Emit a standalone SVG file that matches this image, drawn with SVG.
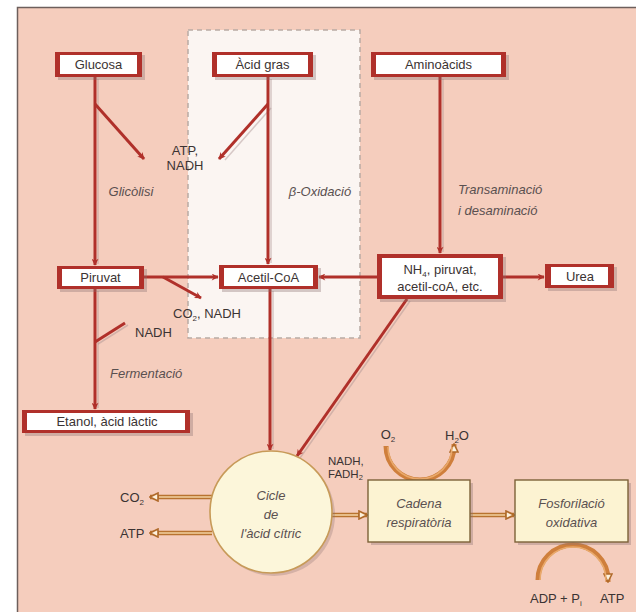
<svg xmlns="http://www.w3.org/2000/svg" width="636" height="612" viewBox="0 0 636 612">
  <defs>
    <style>
      text { font-family: "Liberation Sans", Arial, sans-serif; font-size: 13px; fill: #3b3333; }
      .it { font-style: italic; fill: #5a5050; }
      .c { text-anchor: middle; }
      .sm { font-size: 11.5px; }
      .red { fill: none; stroke: #b0302a; stroke-width: 3; }
      .shadow { fill: none; stroke: #a89090; stroke-width: 1.5; opacity: 0.45; }
      .or-o { fill: none; stroke: #b8732f; stroke-width: 4.5; }
      .or-i { fill: none; stroke: #f3d2a2; stroke-width: 1.6; }
      .arc { fill: none; stroke: #cf7f3c; stroke-width: 5; }
      .arc-hi { fill: none; stroke: #e9a96b; stroke-width: 1.6; }
      .boxout { fill: #b0302a; }
      .boxin { fill: #ffffff; }
      .boxsh { fill: #8a7070; opacity: 0.35; }
      .ybox { fill: #fcf3d2; stroke: #7d6238; stroke-width: 1.4; }
    </style>
    <marker id="ra" viewBox="0 0 10 10" refX="9" refY="5" markerWidth="8" markerHeight="7" markerUnits="userSpaceOnUse" orient="auto">
      <path d="M0,0 L10,5 L0,10 L3,5 z" fill="#b0302a"/>
    </marker>
    <marker id="oa" viewBox="0 0 10 10" refX="9" refY="5" markerWidth="10" markerHeight="10" markerUnits="userSpaceOnUse" orient="auto">
      <path d="M1,1 L9,5 L1,9 z" fill="#fdf1dc" stroke="#b06a2a" stroke-width="1.6"/>
    </marker>
  </defs>

  <!-- page background and panel -->
  <rect x="0" y="0" width="636" height="612" fill="#ffffff"/>
  <rect x="17" y="7" width="619" height="605" fill="#f5cdbd"/>
  <path d="M17.5,612 V7.5 H636" fill="none" stroke="#6d5f5c" stroke-width="1.5"/>

  <!-- beta-oxidation zone -->
  <rect x="188" y="30" width="172" height="308" fill="#fbf5f2" stroke="#b9aaa4" stroke-width="1.5" stroke-dasharray="5,4"/>

  <!-- connectors -->
  <g id="connectors">
    <g class="shadow-lines" transform="translate(3,2)">
      <path class="shadow" d="M95,77 V262"/>
      <path class="shadow" d="M268,77 V261"/>
      <path class="shadow" d="M440,77 V250"/>
      <path class="shadow" d="M95,289 V406"/>
      <path class="shadow" d="M270,289 V447"/>
      <path class="shadow" d="M407,299 L297,456"/>
      <path class="shadow" d="M268,106 L222,158"/>
      <path class="shadow" d="M95,342 L125,323"/>
    </g>
    <!-- red pathways -->
    <path class="red" d="M95,77 V265" marker-end="url(#ra)"/>
    <path class="red" d="M95,104 L144,159" marker-end="url(#ra)"/>
    <path class="red" d="M268,77 V264" marker-end="url(#ra)"/>
    <path class="red" d="M268,104 L219,159" marker-end="url(#ra)"/>
    <path class="red" d="M440,77 V253" marker-end="url(#ra)"/>
    <path class="red" d="M144,277 H218" marker-end="url(#ra)"/>
    <path class="red" d="M163,277 L201,298" marker-end="url(#ra)"/>
    <path class="red" d="M377,277 H319" marker-end="url(#ra)"/>
    <path class="red" d="M502,277 H544" marker-end="url(#ra)"/>
    <path class="red" d="M95,289 V409" marker-end="url(#ra)"/>
    <path class="red" d="M95,342 L125,323"/>
    <path class="red" d="M270,289 V450" marker-end="url(#ra)"/>
    <path class="red" d="M407,299 L297,456" marker-end="url(#ra)"/>

    <!-- orange outputs -->
    <path class="or-o" d="M212,497 H150" marker-end="url(#oa)"/>
    <path class="or-i" d="M212,497 H159"/>
    <path class="or-o" d="M212,533 H150" marker-end="url(#oa)"/>
    <path class="or-i" d="M212,533 H159"/>
    <path class="or-o" d="M331,515 H367" marker-end="url(#oa)"/>
    <path class="or-i" d="M331,515 H358"/>
    <path class="or-o" d="M470,515 H514" marker-end="url(#oa)"/>
    <path class="or-i" d="M470,515 H505"/>

    <!-- O2 -> H2O -->
    <path class="arc" d="M386,446 A34,34 0 0 0 454,446 L454,444" marker-end="url(#oa)"/>
    <path class="arc-hi" d="M388,447 A32,32 0 0 0 452,447"/>
    <!-- ADP + Pi -> ATP -->
    <path class="arc" d="M538,580 A35,35 0 0 1 608,580 L608,582" marker-end="url(#oa)"/>
    <path class="arc-hi" d="M540,580 A33,33 0 0 1 606,580"/>
  </g>

  <!-- nodes -->
  <g id="glucosa">
    <rect class="boxsh" x="58" y="55" width="87" height="25"/>
    <rect class="boxout" x="55" y="52" width="87" height="25"/>
    <rect class="boxin" x="60" y="55" width="77" height="19"/>
    <text class="c" x="98.5" y="69">Glucosa</text>
  </g>
  <g id="acid-gras">
    <rect class="boxsh" x="215" y="55" width="101" height="25"/>
    <rect class="boxout" x="212" y="52" width="101" height="25"/>
    <rect class="boxin" x="217" y="55" width="91" height="19"/>
    <text class="c" x="262.5" y="69">Àcid gras</text>
  </g>
  <g id="aminoacids">
    <rect class="boxsh" x="374" y="55" width="135" height="25"/>
    <rect class="boxout" x="371" y="52" width="135" height="25"/>
    <rect class="boxin" x="376" y="55" width="125" height="19"/>
    <text class="c" x="438.5" y="69">Aminoàcids</text>
  </g>
  <g id="piruvat">
    <rect class="boxsh" x="60" y="269" width="87" height="23"/>
    <rect class="boxout" x="57" y="266" width="87" height="23"/>
    <rect class="boxin" x="62" y="269" width="77" height="17"/>
    <text class="c" x="100.5" y="282">Piruvat</text>
  </g>
  <g id="acetil-coa">
    <rect class="boxsh" x="222" y="268" width="99" height="24"/>
    <rect class="boxout" x="219" y="265" width="99" height="24"/>
    <rect class="boxin" x="224" y="268" width="89" height="18"/>
    <text class="c" x="268.5" y="282">Acetil-CoA</text>
  </g>
  <g id="nh4">
    <rect class="boxsh" x="380" y="257" width="126" height="45"/>
    <rect class="boxout" x="377" y="254" width="126" height="45"/>
    <rect class="boxin" x="382" y="258" width="116" height="37"/>
    <text class="c" x="440" y="274">NH<tspan font-size="8" dy="3">4</tspan><tspan dy="-3">, piruvat,</tspan></text>
    <text class="c" x="440" y="291">acetil-coA, etc.</text>
  </g>
  <g id="urea">
    <rect class="boxsh" x="548" y="267" width="69" height="24"/>
    <rect class="boxout" x="545" y="264" width="69" height="24"/>
    <rect class="boxin" x="551" y="267" width="57" height="18"/>
    <text class="c" x="580" y="281">Urea</text>
  </g>
  <g id="etanol">
    <rect class="boxsh" x="25" y="413" width="168" height="23"/>
    <rect class="boxout" x="22" y="410" width="168" height="23"/>
    <rect class="boxin" x="27" y="413" width="158" height="17"/>
    <text class="c" x="107" y="426">Etanol, àcid làctic</text>
  </g>
  <g id="cicle">
    <circle cx="274" cy="515" r="61" fill="#8a7070" opacity="0.3"/>
    <circle cx="271" cy="512" r="61" fill="#fcf6da" stroke="#c79a58" stroke-width="1.6"/>
    <text class="c it" x="271" y="500">Cicle</text>
    <text class="c it" x="271" y="519">de</text>
    <text class="c it" x="271" y="538">l'àcid cítric</text>
  </g>
  <g id="cadena">
    <rect class="boxsh" x="371" y="483" width="102" height="62"/>
    <rect class="ybox" x="368" y="480" width="102" height="62"/>
    <text class="c it" x="419" y="508">Cadena</text>
    <text class="c it" x="419" y="527">respiratòria</text>
  </g>
  <g id="fosforilacio">
    <rect class="boxsh" x="518" y="483" width="113" height="62"/>
    <rect class="ybox" x="515" y="480" width="113" height="62"/>
    <text class="c it" x="571.5" y="508">Fosforilació</text>
    <text class="c it" x="571.5" y="527">oxidativa</text>
  </g>

  <!-- pathway labels -->
  <g id="labels">
    <text class="c" x="185" y="155">ATP,</text>
    <text class="c" x="185" y="170">NADH</text>
    <text class="c it" x="131" y="196">Glicòlisi</text>
    <text class="c it" x="320" y="196">β-Oxidació</text>
    <text class="it" x="458" y="194">Transaminació</text>
    <text class="it" x="458" y="215">i desaminació</text>
    <text x="173" y="318">CO<tspan font-size="8" dy="3">2</tspan><tspan dy="-3">, NADH</tspan></text>
    <text x="135" y="337">NADH</text>
    <text class="it" x="110" y="378">Fermentació</text>
    <text x="120" y="502">CO<tspan font-size="8" dy="3">2</tspan></text>
    <text x="120" y="538">ATP</text>
    <text class="sm" x="328" y="465">NADH,</text>
    <text class="sm" x="328" y="478">FADH<tspan font-size="7.5" dy="2">2</tspan></text>
    <text class="c" x="388" y="439">O<tspan font-size="8" dy="3">2</tspan></text>
    <text class="c" x="457" y="440">H<tspan font-size="8" dy="3">2</tspan><tspan dy="-3">O</tspan></text>
    <text x="530" y="603">ADP + P<tspan font-size="8" dy="3">i</tspan></text>
    <text x="600" y="603">ATP</text>
  </g>
</svg>
